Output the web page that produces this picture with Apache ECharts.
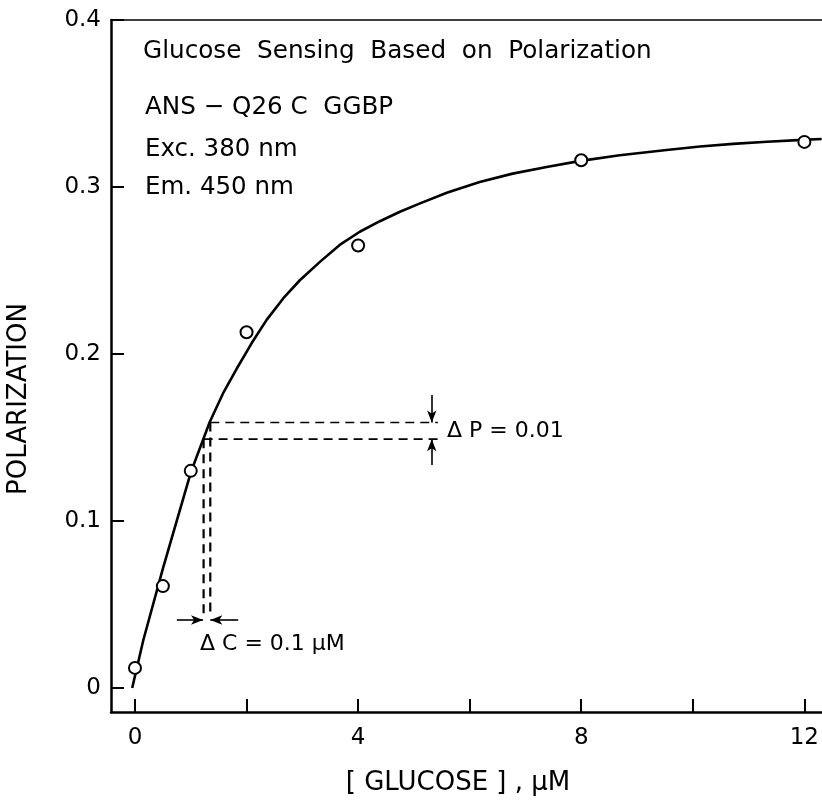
<!DOCTYPE html>
<html>
<head>
<meta charset="utf-8">
<script src="https://cdn.jsdelivr.net/npm/echarts@6/dist/echarts.min.js"></script>
<style>html,body{margin:0;padding:0;background:#fff;}#c{width:822px;height:800px;}</style>
</head>
<body>
<div id="c"></div>
<script>
// Measured data points (glucose µM, polarization)
var pointX = [0, 0.5, 1, 2, 4, 8, 12];
var pointY = [0.012, 0.061, 0.130, 0.213, 0.265, 0.316, 0.327];

// Fitted curve
var curveX = [-0.05, 0.15, 0.5, 1.0, 1.34, 1.58, 1.82, 2.09, 2.36, 2.66, 2.96, 3.32, 3.67, 4.03, 4.39, 4.75, 5.11, 5.59, 6.18, 6.77, 7.38, 7.96, 8.69, 9.53, 10.13, 10.72, 11.33, 11.97, 12.31];
var curveY = [0.0, 0.0287, 0.0715, 0.129, 0.1593, 0.1765, 0.1910, 0.2064, 0.2204, 0.2334, 0.2443, 0.2553, 0.2653, 0.2732, 0.2795, 0.2852, 0.2902, 0.2965, 0.3030, 0.3080, 0.3120, 0.3155, 0.3190, 0.3222, 0.3242, 0.3258, 0.3271, 0.3282, 0.3287];

// Annotation geometry (data units)
var dPupper = [[1.35, 0.159], [5.43, 0.159]];
var dPlower = [[1.23, 0.149], [5.43, 0.149]];
var dCleft = [[1.23, 0.149], [1.23, 0.044]];
var dCright = [[1.35, 0.159], [1.35, 0.044]];
var arrowPdown = [[5.32, 0.1754], [5.32, 0.159]];
var arrowPup = [[5.32, 0.1335], [5.32, 0.149]];
var arrowCright = [[0.75, 0.0407], [1.22, 0.0407]];
var arrowCleft = [[1.85, 0.0407], [1.35, 0.0407]];

// Axis ticks
var xTicks = [0, 2, 4, 6, 8, 10, 12];
var xLabels = [0, 4, 8, 12];
var yTicks = [0, 0.1, 0.2, 0.3, 0.4];

var FONT = 'DejaVu Sans';
function zip(a, b) { return a.map(function (v, i) { return [v, b[i]]; }); }

var chart = echarts.init(document.getElementById('c'), null, {renderer: 'canvas'});

function dashSeries(d, w) {
  return {type: 'line', data: d, symbol: 'none', silent: true, z: 2,
    lineStyle: {color: '#000', width: w || 1.6, type: [9, 6]}};
}
function arrowLine(d) {
  return [{coord: d[0]}, {coord: d[1]}];
}

chart.setOption({
  animation: false,
  backgroundColor: '#fff',
  grid: {left: 111, right: 0, top: 20, bottom: 88},
  xAxis: [{
    type: 'value', min: -0.43, max: 12.31,
    axisLine: {show: true, onZero: false, lineStyle: {color: '#000', width: 2.5}},
    axisTick: {show: true, inside: true, length: 13, customValues: xTicks, lineStyle: {color: '#000', width: 2}},
    axisLabel: {customValues: xLabels, color: '#000', fontFamily: FONT, fontSize: 23, margin: 15},
    splitLine: {show: false}
  }, {
    type: 'value', min: -0.43, max: 12.31, position: 'top',
    axisLine: {show: true, onZero: false, lineStyle: {color: '#000', width: 1.5}},
    axisTick: {show: false}, axisLabel: {show: false}, splitLine: {show: false}
  }],
  yAxis: {
    type: 'value', min: -0.0144, max: 0.4,
    axisLine: {show: true, onZero: false, lineStyle: {color: '#000', width: 2.5}},
    axisTick: {show: true, inside: true, length: 13, customValues: yTicks, lineStyle: {color: '#000', width: 2}},
    axisLabel: {customValues: yTicks, color: '#000', fontFamily: FONT, fontSize: 23, margin: 10,
      formatter: function (v) { return v === 0 ? '0' : v.toFixed(1); }},
    splitLine: {show: false}
  },
  series: [
    {type: 'line', data: zip(curveX, curveY), smooth: false, symbol: 'none', z: 3,
      lineStyle: {color: '#000', width: 2.6, join: 'round'}},
    {type: 'scatter', data: zip(pointX, pointY), symbol: 'circle', symbolSize: 12, z: 4,
      itemStyle: {color: '#fff', opacity: 1, borderColor: '#000', borderWidth: 2}},
    dashSeries(dPupper), dashSeries(dPlower), dashSeries(dCleft, 2.2), dashSeries(dCright, 2.2),
    {type: 'line', data: [], markLine: {silent: true, animation: false, label: {show: false},
      symbol: ['none', 'arrow'], symbolSize: [7, 12],
      lineStyle: {color: '#000', width: 1.6, type: 'solid'},
      data: [arrowLine(arrowPdown), arrowLine(arrowPup), arrowLine(arrowCright), arrowLine(arrowCleft)]}}
  ],
  graphic: [
    {type: 'text', left: 143, top: 39, style: {text: 'Glucose  Sensing  Based  on  Polarization', font: '24.7px "DejaVu Sans"', fill: '#000'}},
    {type: 'text', left: 145, top: 95, style: {text: 'ANS \u2212 Q26 C  GGBP', font: '24.6px "DejaVu Sans"', fill: '#000'}},
    {type: 'text', left: 145, top: 137, style: {text: 'Exc. 380 nm', font: '24.5px "DejaVu Sans"', fill: '#000'}},
    {type: 'text', left: 145, top: 175, style: {text: 'Em. 450 nm', font: '24.5px "DejaVu Sans"', fill: '#000'}},
    {type: 'text', left: 447, top: 420, style: {text: '\u0394 P = 0.01', font: '22px "DejaVu Sans"', fill: '#000'}},
    {type: 'text', left: 200, top: 633, style: {text: '\u0394 C = 0.1 \u00b5M', font: '22px "DejaVu Sans"', fill: '#000'}},
    {type: 'text', x: 458, y: 783, style: {text: '[ GLUCOSE ] , \u00b5M', font: '26px "DejaVu Sans"', fill: '#000', textAlign: 'center', textVerticalAlign: 'middle'}},
    {type: 'text', x: 19, y: 399, rotation: Math.PI / 2, style: {text: 'POLARIZATION', font: '26px "DejaVu Sans"', fill: '#000', textAlign: 'center', textVerticalAlign: 'middle'}}
  ]
});
</script>
</body>
</html>
